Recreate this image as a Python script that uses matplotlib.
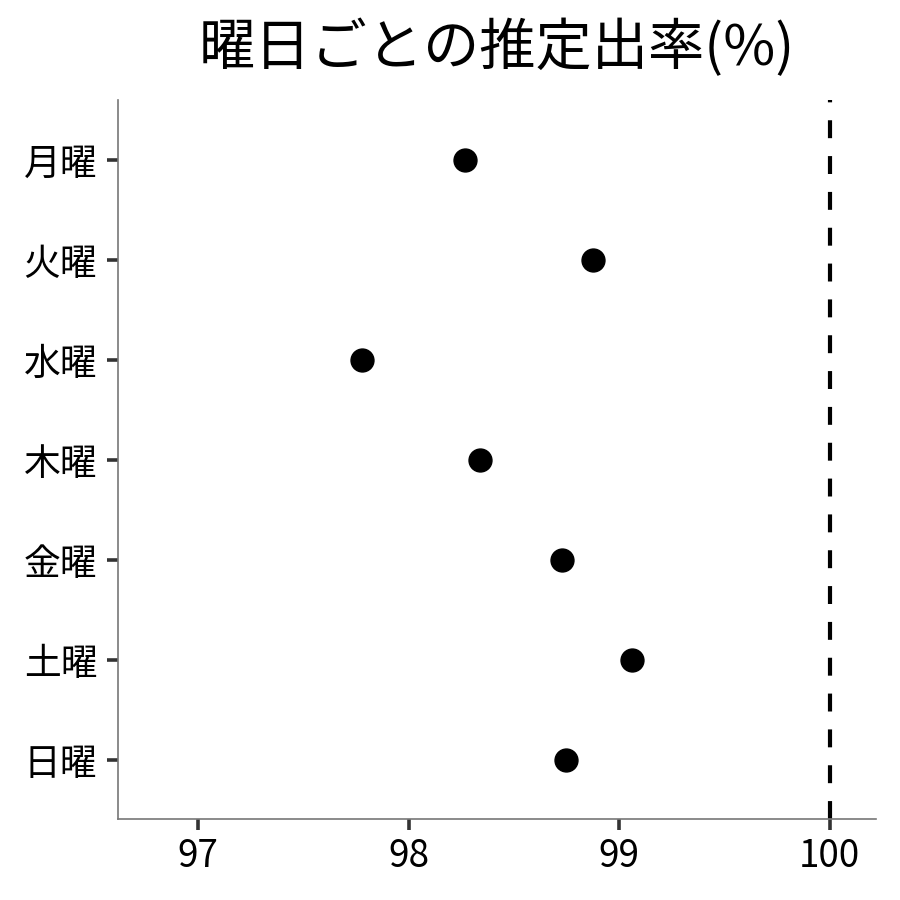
import matplotlib
matplotlib.use("Agg")
import matplotlib.pyplot as plt

plt.rcParams['font.family'] = ['Noto Sans CJK JP', 'DejaVu Sans']

# data
days = ['月曜', '火曜', '水曜', '木曜', '金曜', '土曜', '日曜']
rates = [98.27, 98.875, 97.78, 98.34, 98.73, 99.06, 98.75]
x_ticks = [97, 98, 99, 100]
ref_line = 100

fig = plt.figure(figsize=(9, 9), dpi=100)
ax = fig.add_axes([0.1311, 0.09, 0.8422, 0.7989])

ypos = list(range(len(days), 0, -1))
ax.plot(rates, ypos, 'o', color='black', markersize=16.5, zorder=3)
ax.axvline(ref_line, color='black', linewidth=3, dashes=(4.3, 4.3), zorder=2)

ax.set_yticks(ypos)
ax.set_yticklabels(days)
ax.set_xticks(x_ticks)
ax.set_xticklabels([str(t) for t in x_ticks])
ax.set_xlim(96.62, 100.22)
ax.set_ylim(0.41, 7.6)

for side in ['top', 'right']:
    ax.spines[side].set_visible(False)
for side in ['left', 'bottom']:
    ax.spines[side].set_color('#777777')
    ax.spines[side].set_linewidth(1.2)

ax.tick_params(axis='both', length=8, width=2.6, color='#333333',
               labelsize=26.5, labelcolor='black')
ax.tick_params(axis='y', pad=7)
ax.tick_params(axis='x', pad=5)

ax.set_title('曜日ごとの推定出率(%)', fontsize=40.5, pad=25)

fig.savefig('out.png', dpi=100)
